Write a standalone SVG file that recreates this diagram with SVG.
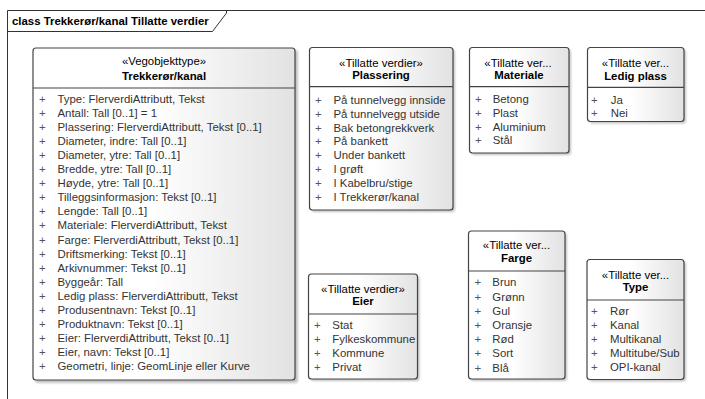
<svg xmlns="http://www.w3.org/2000/svg" width="705" height="399" viewBox="0 0 705 399">
<defs>
<linearGradient id="fill" x1="0" y1="0" x2="1" y2="0">
<stop offset="0" stop-color="#ffffff"/>
<stop offset="0.45" stop-color="#ffffff"/>
<stop offset="1" stop-color="#e2e2e2"/>
</linearGradient>
<filter id="sh" x="-10%" y="-10%" width="130%" height="130%">
<feGaussianBlur stdDeviation="1.2"/>
</filter>
<clipPath id="clipType"><rect x="587" y="300" width="97" height="80"/></clipPath>
</defs>
<style>
text{font-family:"Liberation Sans",Arial,sans-serif;font-size:11.4px}
.box{fill:url(#fill);stroke:#444;stroke-width:1.2}
.shadow{fill:#9a9a9a;opacity:0.6;filter:url(#sh)}
.div{stroke:#444;stroke-width:1.2}
.st{fill:#000;text-anchor:middle}
.nm{fill:#000;text-anchor:middle;font-weight:bold}
.pl{fill:#555}
.at{fill:#333}
.frame{fill:none;stroke:#333;stroke-width:1}
.title{font-weight:bold;fill:#000}
</style>
<rect width="705" height="399" fill="#ffffff"/>
<g id="frame">
<path class="frame" d="M7.5 399 V10.5 H705 M7.5 31.5 H212.5 L226.5 13 V10.5"/>
<text class="title" x="12" y="24.5">class Trekkerør/kanal Tillatte verdier</text>
</g>
<g id="connectors"/>
<g id="Trekkeror_kanal">
<rect class="shadow" x="35" y="50" width="263" height="333" rx="3"/>
<rect class="box" x="33" y="48" width="262" height="332" rx="3"/>
<line class="div" x1="33" y1="88" x2="295" y2="88"/>
<text class="st" x="164" y="65">«Vegobjekttype»</text>
<text class="nm" x="164" y="79.7">Trekkerør/kanal</text>
<g class="pl"><text x="39" y="102.5">+</text><text x="39" y="116.6">+</text><text x="39" y="130.7">+</text><text x="39" y="144.8">+</text><text x="39" y="158.9">+</text><text x="39" y="173">+</text><text x="39" y="187.1">+</text><text x="39" y="201.2">+</text><text x="39" y="215.3">+</text><text x="39" y="229.4">+</text><text x="39" y="243.5">+</text><text x="39" y="257.6">+</text><text x="39" y="271.7">+</text><text x="39" y="285.8">+</text><text x="39" y="299.9">+</text><text x="39" y="314">+</text><text x="39" y="328.1">+</text><text x="39" y="342.2">+</text><text x="39" y="356.3">+</text><text x="39" y="370.4">+</text></g>
<g class="at">
<text x="57.5" y="102.5">Type: FlerverdiAttributt, Tekst</text>
<text x="57.5" y="116.6">Antall: Tall [0..1] = 1</text>
<text x="57.5" y="130.7">Plassering: FlerverdiAttributt, Tekst [0..1]</text>
<text x="57.5" y="144.8">Diameter, indre: Tall [0..1]</text>
<text x="57.5" y="158.9">Diameter, ytre: Tall [0..1]</text>
<text x="57.5" y="173">Bredde, ytre: Tall [0..1]</text>
<text x="57.5" y="187.1">Høyde, ytre: Tall [0..1]</text>
<text x="57.5" y="201.2">Tilleggsinformasjon: Tekst [0..1]</text>
<text x="57.5" y="215.3">Lengde: Tall [0..1]</text>
<text x="57.5" y="229.4">Materiale: FlerverdiAttributt, Tekst</text>
<text x="57.5" y="243.5">Farge: FlerverdiAttributt, Tekst [0..1]</text>
<text x="57.5" y="257.6">Driftsmerking: Tekst [0..1]</text>
<text x="57.5" y="271.7">Arkivnummer: Tekst [0..1]</text>
<text x="57.5" y="285.8">Byggeår: Tall</text>
<text x="57.5" y="299.9">Ledig plass: FlerverdiAttributt, Tekst</text>
<text x="57.5" y="314">Produsentnavn: Tekst [0..1]</text>
<text x="57.5" y="328.1">Produktnavn: Tekst [0..1]</text>
<text x="57.5" y="342.2">Eier: FlerverdiAttributt, Tekst [0..1]</text>
<text x="57.5" y="356.3">Eier, navn: Tekst [0..1]</text>
<text x="57.5" y="370.4">Geometri, linje: GeomLinje eller Kurve</text>
</g>
</g>
<g id="Plassering">
<rect class="shadow" x="311.5" y="49.5" width="143.5" height="162.5" rx="3"/>
<rect class="box" x="309.5" y="47.5" width="143.5" height="162.5" rx="3"/>
<line class="div" x1="309.5" y1="86.7" x2="453" y2="86.7"/>
<text class="st" x="381" y="66.7">«Tillatte verdier»</text>
<text class="nm" x="381" y="79">Plassering</text>
<g class="pl"><text x="315" y="104">+</text><text x="315" y="117.8">+</text><text x="315" y="131.6">+</text><text x="315" y="145.4">+</text><text x="315" y="159.2">+</text><text x="315" y="173">+</text><text x="315" y="186.8">+</text><text x="315" y="200.6">+</text></g>
<g class="at">
<text x="333.5" y="104">På tunnelvegg innside</text>
<text x="333.5" y="117.8">På tunnelvegg utside</text>
<text x="333.5" y="131.6">Bak betongrekkverk</text>
<text x="333.5" y="145.4">På bankett</text>
<text x="333.5" y="159.2">Under bankett</text>
<text x="333.5" y="173">I grøft</text>
<text x="333.5" y="186.8">I Kabelbru/stige</text>
<text x="333.5" y="200.6">I Trekkerør/kanal</text>
</g>
</g>
<g id="Materiale">
<rect class="shadow" x="471.5" y="49.5" width="99.5" height="105.5" rx="3"/>
<rect class="box" x="469.5" y="47.5" width="99.5" height="105.5" rx="3"/>
<line class="div" x1="469.5" y1="86.7" x2="569" y2="86.7"/>
<text class="st" x="518" y="66.7">«Tillatte ver...</text>
<text class="nm" x="519" y="79">Materiale</text>
<g class="pl"><text x="475" y="103.3">+</text><text x="475" y="117">+</text><text x="475" y="130.7">+</text><text x="475" y="144.4">+</text></g>
<g class="at">
<text x="492.7" y="103.3">Betong</text>
<text x="492.7" y="117">Plast</text>
<text x="492.7" y="130.7">Aluminium</text>
<text x="492.7" y="144.4">Stål</text>
</g>
</g>
<g id="Ledig_plass">
<rect class="shadow" x="589.5" y="49.5" width="96.5" height="74" rx="3"/>
<rect class="box" x="587.5" y="47.5" width="96.5" height="74" rx="3"/>
<line class="div" x1="587.5" y1="87.3" x2="684" y2="87.3"/>
<text class="st" x="635.5" y="67">«Tillatte ver...</text>
<text class="nm" x="635.5" y="79.5">Ledig plass</text>
<g class="pl"><text x="591" y="104">+</text><text x="591" y="117">+</text></g>
<g class="at">
<text x="610.7" y="104">Ja</text>
<text x="610.7" y="117">Nei</text>
</g>
</g>
<g id="Eier">
<rect class="shadow" x="310.5" y="276" width="109" height="105" rx="3"/>
<rect class="box" x="308.5" y="274" width="109" height="105" rx="3"/>
<line class="div" x1="308.5" y1="314" x2="417.5" y2="314"/>
<text class="st" x="363" y="292.7">«Tillatte verdier»</text>
<text class="nm" x="363" y="305.3">Eier</text>
<g class="pl"><text x="314" y="329.3">+</text><text x="314" y="343.2">+</text><text x="314" y="357.1">+</text><text x="314" y="371">+</text></g>
<g class="at">
<text x="332.3" y="329.3">Stat</text>
<text x="332.3" y="343.2">Fylkeskommune</text>
<text x="332.3" y="357.1">Kommune</text>
<text x="332.3" y="371">Privat</text>
</g>
</g>
<g id="Farge">
<rect class="shadow" x="470.5" y="233" width="96.5" height="148" rx="3"/>
<rect class="box" x="468.5" y="231" width="96.5" height="148" rx="3"/>
<line class="div" x1="468.5" y1="271" x2="565" y2="271"/>
<text class="st" x="516.5" y="249">«Tillatte ver...</text>
<text class="nm" x="516.5" y="262.3">Farge</text>
<g class="pl"><text x="474.5" y="286.3">+</text><text x="474.5" y="300.5">+</text><text x="474.5" y="314.7">+</text><text x="474.5" y="328.9">+</text><text x="474.5" y="343.1">+</text><text x="474.5" y="357.3">+</text><text x="474.5" y="371.5">+</text></g>
<g class="at">
<text x="492.3" y="286.3">Brun</text>
<text x="492.3" y="300.5">Grønn</text>
<text x="492.3" y="314.7">Gul</text>
<text x="492.3" y="328.9">Oransje</text>
<text x="492.3" y="343.1">Rød</text>
<text x="492.3" y="357.3">Sort</text>
<text x="492.3" y="371.5">Blå</text>
</g>
</g>
<g id="Type">
<rect class="shadow" x="589" y="261.5" width="97" height="120" rx="3"/>
<rect class="box" x="587" y="259.5" width="97" height="120" rx="3"/>
<line class="div" x1="587" y1="300" x2="684" y2="300"/>
<text class="st" x="635.5" y="279">«Tillatte ver...</text>
<text class="nm" x="635.5" y="291.3">Type</text>
<g class="pl"><text x="591" y="315">+</text><text x="591" y="329.1">+</text><text x="591" y="343.2">+</text><text x="591" y="357.3">+</text><text x="591" y="371.4">+</text></g>
<g class="at" clip-path="url(#clipType)">
<text x="610" y="315">Rør</text>
<text x="610" y="329.1">Kanal</text>
<text x="610" y="343.2">Multikanal</text>
<text x="610" y="357.3">Multitube/Sub</text>
<text x="610" y="371.4">OPI-kanal</text>
</g>
</g>
</svg>
